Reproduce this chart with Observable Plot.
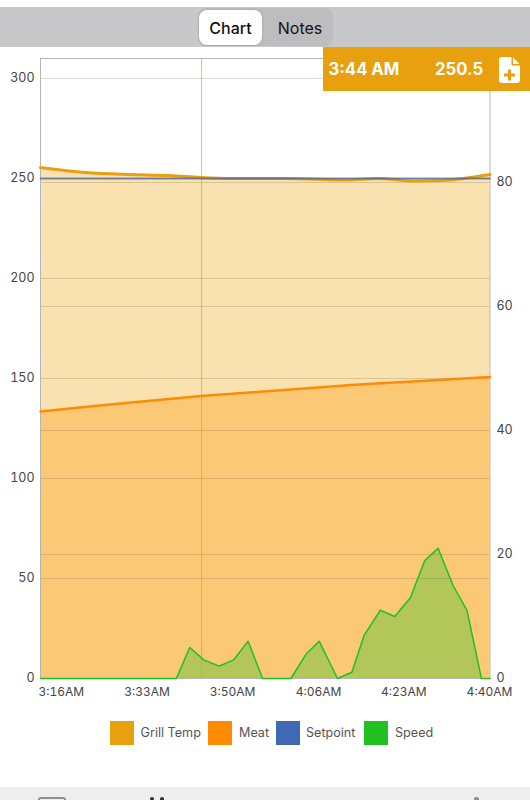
<!DOCTYPE html>
<html>
<head>
<meta charset="utf-8">
<script src="https://cdn.jsdelivr.net/npm/d3@7"></script>
<script src="https://cdn.jsdelivr.net/npm/@observablehq/plot@0.6"></script>
<style>
  html, body { margin: 0; padding: 0; background: #fff; width: 530px; height: 800px; overflow: hidden; font-family: Inter, "Liberation Sans", sans-serif; }
  #page { position: relative; width: 530px; height: 800px; overflow: hidden; }
  #band { position: absolute; left: 0; top: 7px; width: 530px; height: 39.5px; background: #c8c8ca; }
  #seg { position: absolute; left: 198px; top: 8px; width: 135px; height: 38px; background: #bdbdc0; border-radius: 8px; }
  #segOn { position: absolute; left: 1px; top: 2px; width: 63px; height: 35px; background: #fff; border-radius: 8px; box-shadow: 0 0 2px rgba(0,0,0,.25); }
  .segT { position: absolute; top: 9.5px; font-size: 16px; line-height: 20px; color: #111; text-align: center; }
  #chart { position: absolute; left: 0; top: 46px; }
  #chart svg { overflow: visible; display: block; }
  #readout { position: absolute; left: 323px; top: 46.5px; width: 207px; height: 44px; background: #e8a00f; color: #fff; font-weight: 700; font-size: 16.7px; line-height: 44px; }
  #readout span { position: absolute; top: 0; white-space: nowrap; }
  #readout svg { position: absolute; left: 176px; top: 10px; }
  #legend { position: absolute; left: 0; top: 721px; width: 530px; height: 24px; font-size: 12.6px; line-height: 24px; color: #555; }
  .sw { position: absolute; top: 0; width: 24px; height: 24px; }
  .lt { position: absolute; top: 0; white-space: nowrap; }
  #foot { position: absolute; left: 0; top: 787px; width: 530px; height: 13px; background: #eeeeee; }
  .ic { position: absolute; background: #8f8f8f; }
</style>
</head>
<body>
<div id="page">
  <div id="band"></div>
  <div id="seg">
    <div id="segOn"></div>
    <div class="segT" style="left:1px;width:63px;font-weight:500">Chart</div>
    <div class="segT" style="left:73px;width:58px">Notes</div>
  </div>
  <div id="chart"></div>
  <div id="readout">
    <span style="left:5.5px">3:44 AM</span>
    <span style="left:112px">250.5</span>
    <svg width="21" height="26" viewBox="0 0 21 26"><path d="M3 0H13L21 8V23a3 3 0 0 1-3 3H3a3 3 0 0 1-3-3V3a3 3 0 0 1 3-3Z" fill="#fff"/><path d="M13 0V8H21Z" fill="#e8a00f" stroke="#e8a00f"/><path d="M14 0.5L20.5 7H14Z" fill="#fff"/><path d="M9 12.5h3v4h4v3h-4v4h-3v-4h-4v-3h4Z" fill="#e8a00f"/></svg>
  </div>
  <div id="legend"></div>
  <div id="foot">
    <div style="position:absolute;left:38px;top:10px;width:24px;height:3px;border:2px solid #8f8f8f;border-bottom:0;border-radius:3px 3px 0 0"></div>
    <div class="ic" style="left:150px;top:10px;width:4px;height:3px;border-radius:2px 2px 0 0;background:#333"></div>
    <div class="ic" style="left:160px;top:10px;width:4px;height:3px;border-radius:2px 2px 0 0;background:#333"></div>
    <div class="ic" style="left:474px;top:10px;width:5px;height:3px;border-radius:2px 2px 0 0"></div>
  </div>
</div>
<script>
// Time is minutes after 3:16 AM
const grillMinutes = [0, 8.4, 16.8, 24, 30, 36, 46, 57, 63, 70, 75, 79, 84];
const grillTemp    = [255.5, 253, 252, 251.5, 250.5, 250, 250, 249.2, 250, 248.8, 249, 250, 252];

const meatMinutes = [0, 11, 30, 58, 84];
const meatTemp    = [133.5, 136.5, 141.2, 146.8, 150.8];

const setpointMinutes = [0, 84];
const setpointTemp    = [250, 250];

const speedMinutes = [0, 25.4, 27.9, 30.5, 33.4, 36.1, 38.8, 41.5, 46.8, 49.7, 52.1, 55.5, 58.2, 60.5, 63.5, 66.2, 69.1, 71.8, 74.3, 77.1, 79.7, 82.4, 84];
const speedPct     = [0, 0, 5, 3, 2, 3, 6, 0, 0, 4, 6, 0, 1, 7, 11, 10, 13, 19, 21, 15, 11, 0, 0];

const cursorMinute = 30.1;

const leftTicks  = [0, 50, 100, 150, 200, 250, 300];
const rightTicks = [0, 20, 40, 60, 80];
const timeLabels = ["3:16AM", "3:33AM", "3:50AM", "4:06AM", "4:23AM", "4:40AM"];
const timeLabelAt = [3.9, 19.9, 35.9, 51.95, 67.9, 83.9];

const seriesNames  = ["Grill Temp", "Meat", "Setpoint", "Speed"];
const seriesColors = ["#e8a00f", "#ff8c00", "#3f69b5", "#22c122"];

const yMax = 310, speedMax = 100;
const toLeft = v => v * yMax / speedMax;
const zip = (xs, ys) => xs.map((m, i) => ({m, v: ys[i]}));
const grill = zip(grillMinutes, grillTemp);
const meat = zip(meatMinutes, meatTemp);
const setpoint = zip(setpointMinutes, setpointTemp);
const speed = zip(speedMinutes, speedPct.map(toLeft));
const [cGrill, cMeat, cSet, cSpeed] = seriesColors;

const plot = Plot.plot({
  width: 530,
  height: 662,
  marginTop: 12,
  marginBottom: 30,
  marginLeft: 40,
  marginRight: 40.5,
  style: {fontFamily: "Inter, 'Liberation Sans', sans-serif", fontSize: "12.5px", color: "#444", background: "transparent"},
  x: {domain: [0, 84], label: null},
  y: {domain: [0, yMax], label: null},
  marks: [
    Plot.areaY(grill, {x: "m", y: "v", fill: "#eda50f", fillOpacity: 0.33}),
    Plot.areaY(meat, {x: "m", y: "v", fill: "#ff9400", fillOpacity: 0.33}),
    Plot.areaY(speed, {x: "m", y: "v", fill: cSpeed, fillOpacity: 0.33}),
    Plot.ruleY(leftTicks, {stroke: "#66563a", strokeOpacity: 0.22, strokeWidth: 1}),
    Plot.ruleY(rightTicks.map(toLeft), {stroke: "#66563a", strokeOpacity: 0.22, strokeWidth: 1}),
    Plot.ruleX([cursorMinute], {stroke: cGrill, strokeOpacity: 0.7, strokeWidth: 1}),
    Plot.frame({stroke: "#b5b5b5", strokeWidth: 1}),
    Plot.lineY(grill, {x: "m", y: "v", stroke: cGrill, strokeWidth: 3, curve: "monotone-x"}),
    Plot.lineY(meat, {x: "m", y: "v", stroke: cMeat, strokeWidth: 2.5}),
    Plot.lineY(setpoint, {x: "m", y: "v", stroke: "#2f5aa8", strokeWidth: 2, strokeOpacity: 0.65}),
    Plot.lineY(speed, {x: "m", y: "v", stroke: cSpeed, strokeWidth: 1.5}),
    Plot.axisY(leftTicks, {anchor: "left", tickSize: 0, tickPadding: 6, dy: -1, label: null}),
    Plot.axisY(rightTicks.map(toLeft), {anchor: "right", tickSize: 0, tickPadding: 6.5, dy: -1, label: null,
      tickFormat: d => Math.round(d * speedMax / yMax)}),
    Plot.axisX(timeLabelAt, {anchor: "bottom", tickSize: 0, tickPadding: 8.5, fontSize: 12, label: null,
      tickFormat: d => timeLabels[timeLabelAt.indexOf(d)]})
  ]
});
document.getElementById("chart").appendChild(plot);

const legend = document.getElementById("legend");
const swatchLeft = [110, 208, 276, 364];
const labelLeft = [140.6, 239, 306, 395];
seriesNames.forEach((name, i) => {
  const s = document.createElement("div");
  s.className = "sw";
  s.style.left = swatchLeft[i] + "px";
  s.style.background = seriesColors[i];
  legend.appendChild(s);
  const t = document.createElement("div");
  t.className = "lt";
  t.style.left = labelLeft[i] + "px";
  t.textContent = name;
  legend.appendChild(t);
});
</script>
</body>
</html>
